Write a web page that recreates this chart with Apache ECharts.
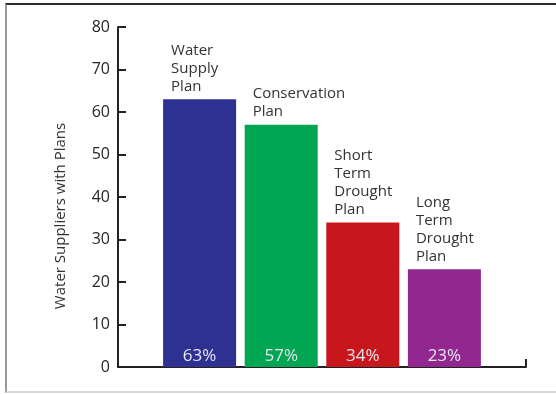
<!DOCTYPE html>
<html>
<head>
<meta charset="utf-8">
<script src="https://cdn.jsdelivr.net/npm/echarts@6/dist/echarts.min.js"></script>
<style>
  html, body { margin: 0; padding: 0; background: #fff; }
  #frame { position: absolute; left: 5px; top: 3px; width: 551px; height: 390px;
           border-top: 2px solid #2a2a2a; border-left: 2px solid #9a9a9a; border-bottom: 2px solid #d8d8d8; box-sizing: border-box; }
  #chart { position: absolute; left: 0; top: 0; width: 556px; height: 394px; }
</style>
</head>
<body>
<div id="frame"></div>
<div id="chart"></div>
<script>
const categories = ['Water\nSupply\nPlan', 'Conservation\nPlan', 'Short\nTerm\nDrought\nPlan', 'Long\nTerm\nDrought\nPlan'];
const values = [63, 57, 34, 23];
const percentLabels = ['63%', '57%', '34%', '23%'];
const barColors = ['#2e3192', '#00a651', '#c8161d', '#92278f'];
const yTicks = { min: 0, max: 80, interval: 10 };
const yAxisTitle = 'Water Suppliers with Plans';

const font = '"Open Sans", "Noto Sans", sans-serif';
const chart = echarts.init(document.getElementById('chart'), null, { renderer: 'canvas' });

const barData = values.map((v, i) => ({
  value: [i + 1, v],
  itemStyle: { color: barColors[i] },
  label: { formatter: categories[i] }
}));
const pctData = values.map((v, i) => ({
  value: [i + 1, v],
  label: { formatter: percentLabels[i] }
}));

chart.setOption({
  animation: false,
  backgroundColor: 'transparent',
  grid: { left: 118, right: 30, top: 27, bottom: 27, containLabel: false },
  xAxis: {
    type: 'value', min: 0, max: categories.length + 1, interval: categories.length + 1,
    axisLine: { show: true, lineStyle: { color: '#222', width: 2 } },
    axisTick: { show: true, inside: true, length: 8, lineStyle: { color: '#222', width: 2 } },
    axisLabel: { show: false },
    splitLine: { show: false }
  },
  yAxis: {
    type: 'value', min: yTicks.min, max: yTicks.max, interval: yTicks.interval,
    name: yAxisTitle, nameLocation: 'middle', nameRotate: 90, nameGap: 50,
    nameTextStyle: { fontFamily: font, fontSize: 15, color: '#333', padding: [0, 38, 0, 0] },
    axisLine: { show: true, lineStyle: { color: '#222', width: 2 } },
    axisTick: { show: true, inside: true, length: 8, lineStyle: { color: '#222', width: 2 } },
    axisLabel: { fontFamily: font, fontSize: 16, color: '#262626', margin: 8 },
    splitLine: { show: false }
  },
  series: [
    {
      type: 'bar', barWidth: 73, data: barData,
      label: {
        show: true, position: [8, -4], align: 'left', verticalAlign: 'bottom',
        fontFamily: font, fontSize: 15, lineHeight: 18, color: '#333'
      }
    },
    {
      type: 'bar', barWidth: 73, barGap: '-100%', data: pctData,
      itemStyle: { color: 'rgba(0,0,0,0)' },
      label: {
        show: true, position: 'insideBottom', distance: 1,
        fontFamily: font, fontSize: 17, lineHeight: 20, color: '#e6e6ee'
      },
      z: 3
    }
  ]
});
</script>
</body>
</html>
